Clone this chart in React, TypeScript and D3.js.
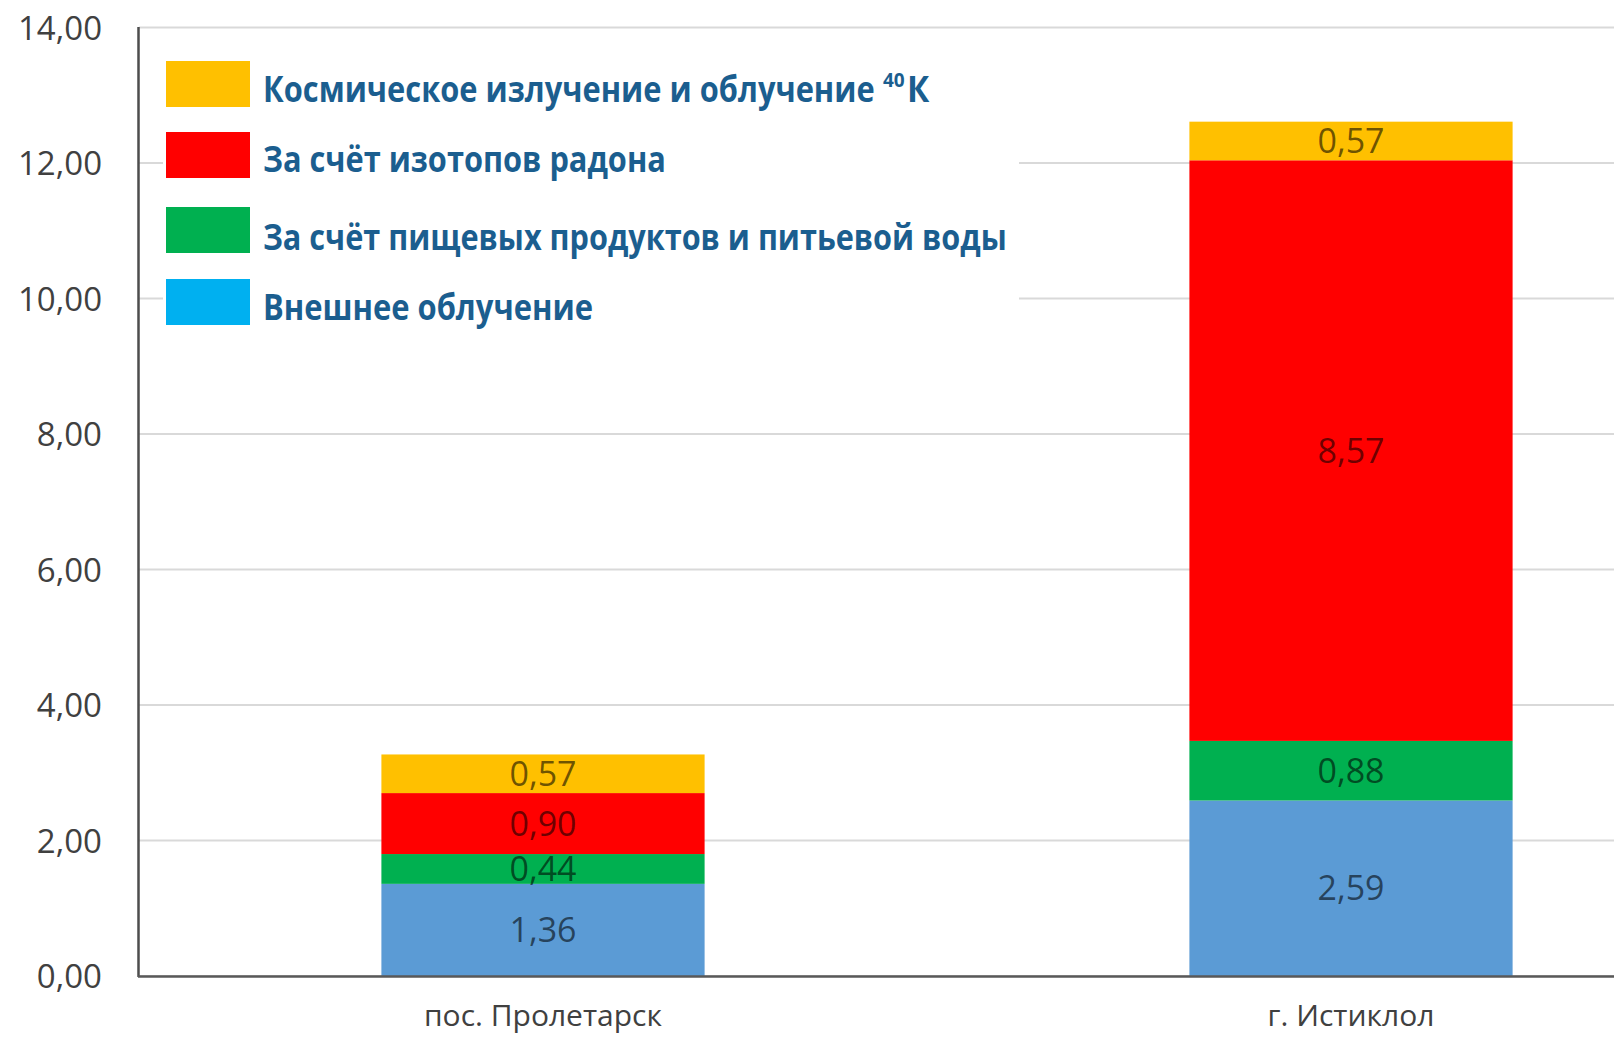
import React, { useLayoutEffect, useRef, useState } from "react";
import * as d3 from "d3";

const categories = ["пос. Пролетарск", "г. Истиклол"];
const seriesKeys = ["external", "food", "radon", "cosmic"];
const externalValues = [1.36, 2.59];
const foodValues = [0.44, 0.88];
const radonValues = [0.9, 8.57];
const cosmicValues = [0.57, 0.57];
const yTicks = [0, 2, 4, 6, 8, 10, 12, 14];
const barColors = ["#5B9BD5", "#00B050", "#FF0000", "#FFC000"];
const legendColors = ["#FFC000", "#FF0000", "#00B050", "#00B0F0"];
const legendLabels = [
  "Космическое излучение и облучение",
  "За счёт изотопов радона",
  "За счёт пищевых продуктов и питьевой воды",
  "Внешнее облучение",
];
const legendWidths = [612, 403, 744, 330];

const W = 1614;
const H = 1037;

const fmt = (v: number) => v.toFixed(2).replace(".", ",");

export default function App() {
  const rows = categories.map((c, i) => ({
    cat: c,
    external: externalValues[i],
    food: foodValues[i],
    radon: radonValues[i],
    cosmic: cosmicValues[i],
  }));
  const stack = d3.stack<any>().keys(seriesKeys)(rows);
  const y = d3.scaleLinear().domain([0, 14]).range([976, 27.5]);
  const x = d3
    .scaleBand<string>()
    .domain(categories)
    .range([139, 1755])
    .paddingInner(0.6)
    .paddingOuter(0.3);

  const legendTops = [61, 132, 207, 279];
  const legendBase = [101.5, 172, 250, 320];

  const textRefs = useRef<(SVGTextElement | null)[]>([]);
  const [scales, setScales] = useState<number[]>(legendLabels.map(() => 1));
  useLayoutEffect(() => {
    const s = legendLabels.map((_, i) => {
      const el = textRefs.current[i];
      if (!el) return 1;
      const w = el.getComputedTextLength();
      return w > 0 ? legendWidths[i] / w : 1;
    });
    setScales(s);
  }, []);

  return (
    <svg
      width={W}
      height={H}
      style={{ position: "absolute", left: 0, top: 0, background: "#fff" }}
    >
      <rect x={0} y={0} width={W} height={H} fill="#fff" />
      {yTicks.map((t) => (
        <line
          key={"g" + t}
          x1={139}
          x2={W}
          y1={y(t)}
          y2={y(t)}
          stroke="#D9D9D9"
          strokeWidth={2}
        />
      ))}
      <rect x={163} y={45} width={856} height={292} fill="#fff" />
      {stack.map((layer, si) =>
        layer.map((d, ci) => {
          const x0 = x(categories[ci]) as number;
          const y0 = y(d[1]);
          const y1 = y(d[0]);
          return (
            <rect
              key={si + "-" + ci}
              x={x0}
              y={y0}
              width={x.bandwidth()}
              height={y1 - y0}
              fill={barColors[si]}
            />
          );
        })
      )}
      {stack.map((layer, si) =>
        layer.map((d, ci) => {
          const x0 = x(categories[ci]) as number;
          const yc = (y(d[1]) + y(d[0])) / 2;
          return (
            <text
              key={"l" + si + "-" + ci}
              x={x0 + x.bandwidth() / 2}
              y={yc + 12}
              textAnchor="middle"
              fontFamily="'Open Sans', sans-serif"
              fontSize={34}
              fill="#000"
              fillOpacity={0.58}
            >
              {fmt(d[1] - d[0])}
            </text>
          );
        })
      )}
      <line x1={138.5} x2={138.5} y1={27} y2={977} stroke="#4D4D4D" strokeWidth={2.5} />
      <line x1={138} x2={W} y1={976.5} y2={976.5} stroke="#595959" strokeWidth={2.5} />
      {yTicks.map((t) => (
        <text
          key={"t" + t}
          x={102}
          y={y(t) + 12}
          textAnchor="end"
          fontFamily="'Open Sans', sans-serif"
          fontSize={33}
          fill="#404040"
        >
          {fmt(t)}
        </text>
      ))}
      {categories.map((c) => (
        <text
          key={"c" + c}
          x={(x(c) as number) + x.bandwidth() / 2}
          y={1026}
          textAnchor="middle"
          fontFamily="'Open Sans', sans-serif"
          fontSize={30}
          fill="#404040"
        >
          {c}
        </text>
      ))}
      {legendLabels.map((lab, i) => (
        <g key={"lg" + i}>
          <rect x={166} y={legendTops[i]} width={84} height={46} fill={legendColors[i]} />
          <g transform={`translate(263,${legendBase[i]}) scale(${scales[i]},1)`}>
            <text
              ref={(el) => {
                textRefs.current[i] = el;
              }}
              x={0}
              y={0}
              fontFamily="'Open Sans', sans-serif"
              fontWeight={700}
              fontSize={35}
              fill="#1B5E8F"
            >
              {lab}
            </text>
          </g>
        </g>
      ))}
      <text
        x={883}
        y={legendBase[0] - 15}
        fontFamily="'Open Sans', sans-serif"
        fontWeight={700}
        fontSize={19}
        fill="#1B5E8F"
      >
        40
      </text>
      <g transform={`translate(907,${legendBase[0]}) scale(0.95,1)`}>
        <text
          x={0}
          y={0}
          fontFamily="'Open Sans', sans-serif"
          fontWeight={700}
          fontSize={35}
          fill="#1B5E8F"
        >
          К
        </text>
      </g>
    </svg>
  );
}
